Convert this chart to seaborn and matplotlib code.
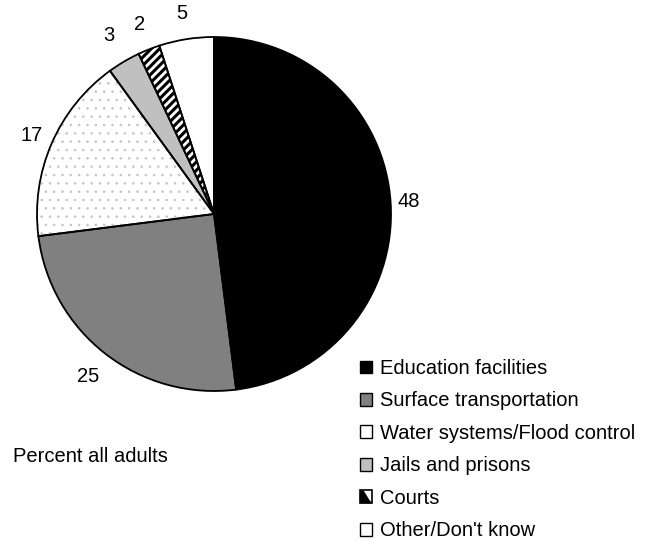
import matplotlib
matplotlib.use("Agg")
import numpy as np
import matplotlib.pyplot as plt
import seaborn as sns
from matplotlib.patches import Patch, Polygon, Rectangle
from matplotlib.legend_handler import HandlerPatch

sns.set_style("white")
plt.rcParams['font.family'] = ['Liberation Sans', 'DejaVu Sans']
plt.rcParams['text.color'] = 'black'

categories = ["Education facilities", "Surface transportation", "Water systems/Flood control",
              "Jails and prisons", "Courts", "Other/Don't know"]
values = [48, 25, 17, 3, 2, 5]
labels = ["48", "25", "17", "3", "2", "5"]
face_colors = ["#000000", "#808080", "#ffffff", "#c0c0c0", "#ffffff", "#ffffff"]
hatches = [None, None, "..", None, "////", None]
hatch_edge = ["#000000", "#808080", "#c4c4c4", "#c0c0c0", "#000000", "#ffffff"]
hatch_lw = [1.0, 1.0, 0.6, 1.0, 2.2, 1.0]
label_dist = [1.10, 1.16, 1.12, 1.17, 1.15, 1.145]

W, H = 662, 541
fig = plt.figure(figsize=(W / 100, H / 100), dpi=100)
cx, cy, r = 214, 214, 177
ax = fig.add_axes([(cx - r) / W, (H - cy - r) / H, 2 * r / W, 2 * r / H])

FS = 14.5
for hl in sorted(set(hatch_lw)):
    plt.rcParams['hatch.linewidth'] = hl
    ws, _ = ax.pie(values, startangle=90, counterclock=False, colors=face_colors,
                   wedgeprops=dict(linewidth=0))
    for w, h, ec, l in zip(ws, hatches, hatch_edge, hatch_lw):
        if l != hl:
            w.set_visible(False)
            continue
        if h:
            w.set_hatch(h)
            w.set_edgecolor(ec)
            w.set_linewidth(0)

outl, _ = ax.pie(values, startangle=90, counterclock=False,
                 wedgeprops=dict(facecolor="none", edgecolor="black", linewidth=1.3))
for w, lab, d in zip(outl, labels, label_dist):
    ang = np.deg2rad((w.theta1 + w.theta2) / 2)
    ax.text(d * np.cos(ang), d * np.sin(ang), lab, fontsize=FS, ha="center", va="center",
            color="black")
ax.set_xlim(-1, 1)
ax.set_ylim(-1, 1)
ax.set_aspect("equal")
ax.axis("off")


class HalfHandler(HandlerPatch):
    def create_artists(self, legend, orig_handle, xdescent, ydescent, width, height,
                       fontsize, trans):
        x0, y0 = -xdescent, -ydescent
        tri = Polygon([[x0, y0], [x0 + width, y0], [x0 + width * 0.75, y0 + height * 0.3],
                       [x0 + width * 0.3, y0 + height], [x0, y0 + height]],
                      closed=True, facecolor="black", edgecolor="none", transform=trans)
        box = Rectangle((x0, y0), width, height, facecolor="none", edgecolor="black",
                        linewidth=1.2, transform=trans)
        return [tri, box]


plt.rcParams['hatch.linewidth'] = 1.0
handles = []
for fc, h in zip(face_colors, hatches):
    handles.append(Patch(facecolor=fc, edgecolor="black", linewidth=1.0))
courts_handle = handles[4]
leg = fig.legend(handles, categories, loc="upper left",
                 bbox_to_anchor=(360 / W, 1 - 359 / H), frameon=False,
                 fontsize=FS, handlelength=0.6, handleheight=0.6, handletextpad=0.4,
                 labelspacing=0.67, borderaxespad=0, borderpad=0,
                 handler_map={courts_handle: HalfHandler()})

fig.text(13 / W, 1 - 457 / H, "Percent all adults", fontsize=FS, ha="left", va="center")

fig.savefig("out.png", dpi=100)
